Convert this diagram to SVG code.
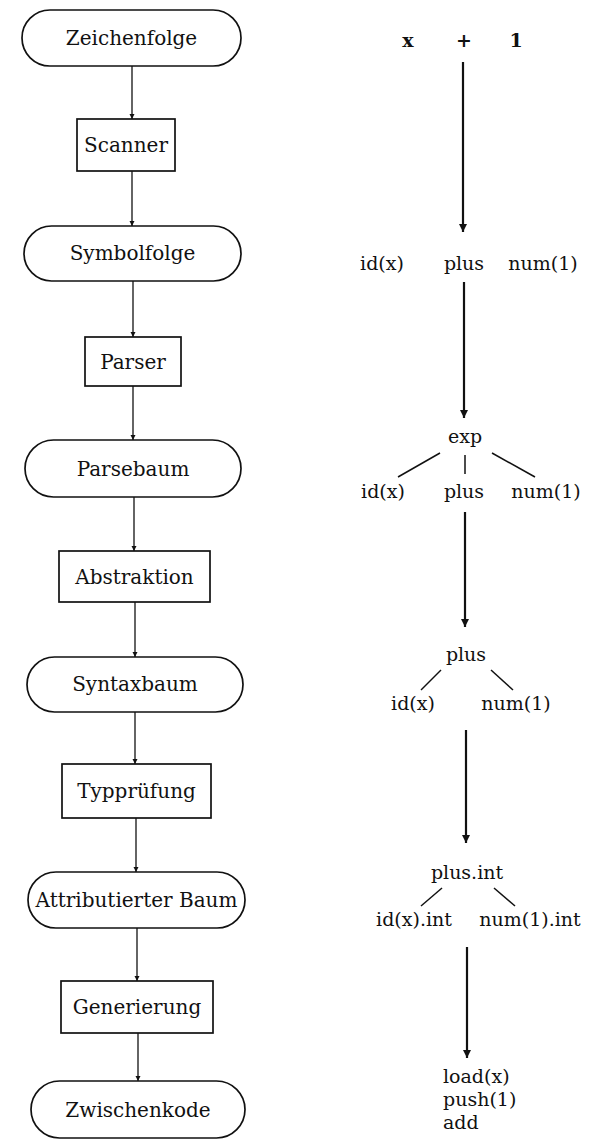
<svg xmlns="http://www.w3.org/2000/svg" width="596" height="1142" viewBox="0 0 596 1142">
<style>
text{font-family:"DejaVu Serif","Liberation Serif",serif;font-size:19px;fill:#111;text-anchor:middle}
.n text{font-size:20px}
.b{font-weight:bold}
.shape{fill:#fff;stroke:#111;stroke-width:1.7}
.c{stroke:#111;stroke-width:1.3;fill:none}
.c2{stroke:#111;stroke-width:2.2;fill:none}
.t{stroke:#111;stroke-width:1.5;fill:none}
.ls{text-anchor:start}
</style>
<defs>
<marker id="ah" viewBox="0 0 10 10" refX="10" refY="5" markerWidth="5" markerHeight="7" markerUnits="userSpaceOnUse" orient="auto"><path d="M0,0 L10,5 L0,10 z" fill="#111"/></marker>
<marker id="ah2" viewBox="0 0 10 10" refX="10" refY="5" markerWidth="11" markerHeight="8" markerUnits="userSpaceOnUse" orient="auto"><path d="M0,0 L10,5 L0,10 z" fill="#111"/></marker>
</defs>
<rect width="596" height="1142" fill="#fff"/>
<g id="connectors">
<line class="c" x1="132" y1="66" x2="132" y2="119" marker-end="url(#ah)"/>
<line class="c" x1="132" y1="171" x2="132" y2="226" marker-end="url(#ah)"/>
<line class="c" x1="133" y1="281" x2="133" y2="337" marker-end="url(#ah)"/>
<line class="c" x1="133" y1="386" x2="133" y2="440" marker-end="url(#ah)"/>
<line class="c" x1="134" y1="497" x2="134" y2="551" marker-end="url(#ah)"/>
<line class="c" x1="135" y1="602" x2="135" y2="657" marker-end="url(#ah)"/>
<line class="c" x1="135" y1="712" x2="135" y2="764" marker-end="url(#ah)"/>
<line class="c" x1="136" y1="818" x2="136" y2="872" marker-end="url(#ah)"/>
<line class="c" x1="137" y1="928" x2="137" y2="981" marker-end="url(#ah)"/>
<line class="c" x1="138" y1="1033" x2="138" y2="1081" marker-end="url(#ah)"/>
<line class="c2" x1="463" y1="62" x2="463" y2="232" marker-end="url(#ah2)"/>
<line class="c2" x1="464" y1="282" x2="464" y2="418" marker-end="url(#ah2)"/>
<line class="c2" x1="465" y1="512" x2="465" y2="627" marker-end="url(#ah2)"/>
<line class="c2" x1="466" y1="730" x2="466" y2="843" marker-end="url(#ah2)"/>
<line class="c2" x1="467" y1="947" x2="467" y2="1058" marker-end="url(#ah2)"/>
</g>
<g id="tree-lines">
<line class="t" x1="440" y1="453" x2="398" y2="477"/>
<line class="t" x1="465" y1="455" x2="465" y2="474"/>
<line class="t" x1="492" y1="453" x2="535" y2="477"/>
<line class="t" x1="441" y1="670" x2="421" y2="690"/>
<line class="t" x1="491" y1="670" x2="513" y2="690"/>
<line class="t" x1="442" y1="888" x2="421" y2="906"/>
<line class="t" x1="494" y1="888" x2="515" y2="906"/>
</g>
<g id="n-zeichenfolge" class="n"><rect class="shape" x="22" y="10" width="219" height="56" rx="28"/><text x="131.5" y="45">Zeichenfolge</text></g>
<g id="n-scanner" class="n"><rect class="shape" x="77" y="119" width="98" height="52"/><text x="126" y="152">Scanner</text></g>
<g id="n-symbolfolge" class="n"><rect class="shape" x="24" y="226" width="217" height="55" rx="27.5"/><text x="132.5" y="260">Symbolfolge</text></g>
<g id="n-parser" class="n"><rect class="shape" x="85" y="337" width="96" height="49"/><text x="133" y="369">Parser</text></g>
<g id="n-parsebaum" class="n"><rect class="shape" x="25" y="440" width="216" height="57" rx="28.5"/><text x="133" y="476">Parsebaum</text></g>
<g id="n-abstraktion" class="n"><rect class="shape" x="59" y="551" width="151" height="51"/><text x="134.5" y="584">Abstraktion</text></g>
<g id="n-syntaxbaum" class="n"><rect class="shape" x="27" y="657" width="216" height="55" rx="27.5"/><text x="135" y="691">Syntaxbaum</text></g>
<g id="n-typpruefung" class="n"><rect class="shape" x="62" y="764" width="149" height="54"/><text x="136.5" y="798">Typprüfung</text></g>
<g id="n-attributierter-baum" class="n"><rect class="shape" x="28" y="872" width="217" height="56" rx="28"/><text x="136.5" y="907">Attributierter Baum</text></g>
<g id="n-generierung" class="n"><rect class="shape" x="61" y="981" width="152" height="52"/><text x="137" y="1014">Generierung</text></g>
<g id="n-zwischenkode" class="n"><rect class="shape" x="31" y="1081" width="214" height="57" rx="28.5"/><text x="138" y="1117">Zwischenkode</text></g>
<g id="r-source"><text class="b" x="408" y="47">x</text><text class="b" x="464" y="47">+</text><text class="b" x="516" y="47">1</text></g>
<g id="r-tokens"><text x="382" y="270">id(x)</text><text x="464" y="270">plus</text><text x="543" y="270">num(1)</text></g>
<g id="r-parsetree"><text x="465" y="443">exp</text><text x="383" y="498">id(x)</text><text x="464" y="498">plus</text><text x="546" y="498">num(1)</text></g>
<g id="r-syntaxtree"><text x="466" y="661">plus</text><text x="413" y="710">id(x)</text><text x="516" y="710">num(1)</text></g>
<g id="r-attrtree"><text x="467" y="879">plus.int</text><text x="414" y="926">id(x).int</text><text x="530" y="926">num(1).int</text></g>
<g id="r-code"><text class="ls" x="443" y="1083">load(x)</text><text class="ls" x="443" y="1106">push(1)</text><text class="ls" x="443" y="1129">add</text></g>
</svg>
